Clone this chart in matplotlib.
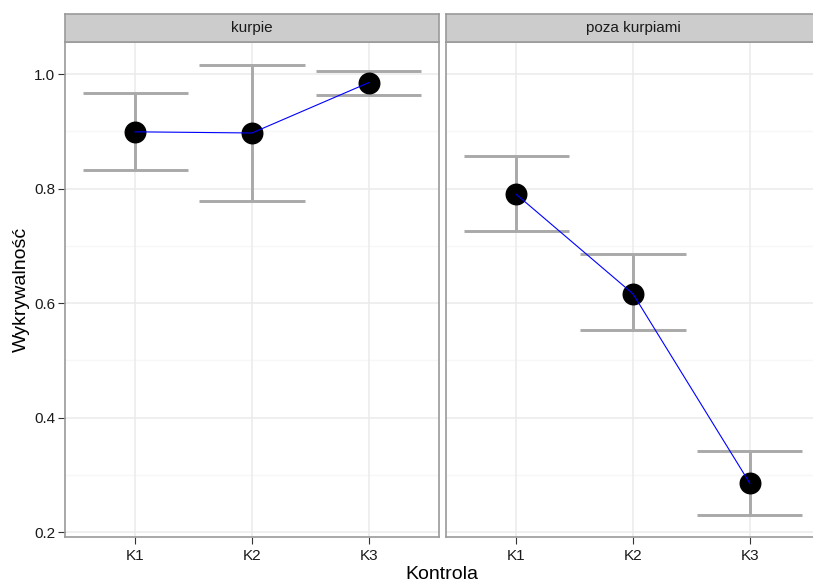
import matplotlib
matplotlib.use("Agg")
import matplotlib.pyplot as plt
import numpy as np

plt.rcParams['font.family'] = ['Liberation Sans', 'DejaVu Sans']

# detectability per control point, split by region
controls = ["K1", "K2", "K3"]
panels = ["kurpie", "poza kurpiami"]
mean_kurpie = [0.899, 0.897, 0.985]
low_kurpie = [0.832, 0.779, 0.964]
high_kurpie = [0.966, 1.015, 1.006]
mean_poza = [0.790, 0.616, 0.285]
low_poza = [0.725, 0.552, 0.229]
high_poza = [0.856, 0.685, 0.341]
y_ticks = [0.2, 0.4, 0.6, 0.8, 1.0]

W, H = 813, 582
fig = plt.figure(figsize=(W / 100, H / 100), dpi=100)

def fx(px):
    return px / W

def fy(px):
    return 1 - px / H

panel_top, panel_bottom, strip_top = 42, 537, 14
lefts = [65, 446]
width = 374

series = [(mean_kurpie, low_kurpie, high_kurpie), (mean_poza, low_poza, high_poza)]
x = np.arange(1, len(controls) + 1)

for i, (name, (m, lo, hi)) in enumerate(zip(panels, series)):
    ax = fig.add_axes([fx(lefts[i]), fy(panel_bottom), fx(width), fy(panel_top) - fy(panel_bottom)])
    ax.set_xlim(0.4, 3.6)
    ax.set_ylim(0.1913, 1.0559)

    # grid
    for v in [0.3, 0.5, 0.7, 0.9]:
        ax.axhline(v, color="#F7F7F7", lw=1.0, zorder=0)
    for v in y_ticks:
        ax.axhline(v, color="#EBEBEB", lw=1.1, zorder=0)
    for v in x:
        ax.axvline(v, color="#EBEBEB", lw=1.1, zorder=0)

    # error bars
    ax.vlines(x, lo, hi, color="#A9A9A9", lw=2.1, zorder=2)
    ax.hlines(lo, x - 0.45, x + 0.45, color="#A9A9A9", lw=2.1, zorder=2)
    ax.hlines(hi, x - 0.45, x + 0.45, color="#A9A9A9", lw=2.1, zorder=2)

    ax.plot(x, m, "o", color="black", ms=14.8, zorder=3)
    ax.plot(x, m, "-", color="blue", lw=0.8, zorder=4)

    ax.set_xticks(x)
    ax.set_xticklabels(controls)
    ax.set_yticks(y_ticks)
    if i == 0:
        ax.set_yticklabels([f"{v:.1f}" for v in y_ticks])
        ax.tick_params(axis="y", length=5, width=0.8, color="#333333",
                       labelsize=11, labelcolor="#1a1a1a", pad=2)
    else:
        ax.tick_params(axis="y", length=0, labelleft=False)
    ax.tick_params(axis="x", length=5, width=0.8, color="#333333",
                   labelsize=11, labelcolor="#1a1a1a", pad=4)
    for s in ax.spines.values():
        s.set_color("#9A9A9A")
        s.set_linewidth(1.2)

    # facet strip
    sax = fig.add_axes([fx(lefts[i]), fy(panel_top), fx(width), fy(strip_top) - fy(panel_top)])
    sax.set_facecolor("#CCCCCC")
    sax.set_xticks([])
    sax.set_yticks([])
    for s in sax.spines.values():
        s.set_color("#9A9A9A")
        s.set_linewidth(1.2)
    sax.text(0.5, 0.5, name, transform=sax.transAxes, ha="center", va="center",
             fontsize=11, color="#1a1a1a")

fig.text(fx(21), fy(289), "Wykrywalność", rotation=90, ha="center", va="center",
         fontsize=14, color="black")
fig.text(fx(442), fy(579), "Kontrola", ha="center", va="baseline",
         fontsize=14, color="black")

fig.savefig("out.png", dpi=100)
